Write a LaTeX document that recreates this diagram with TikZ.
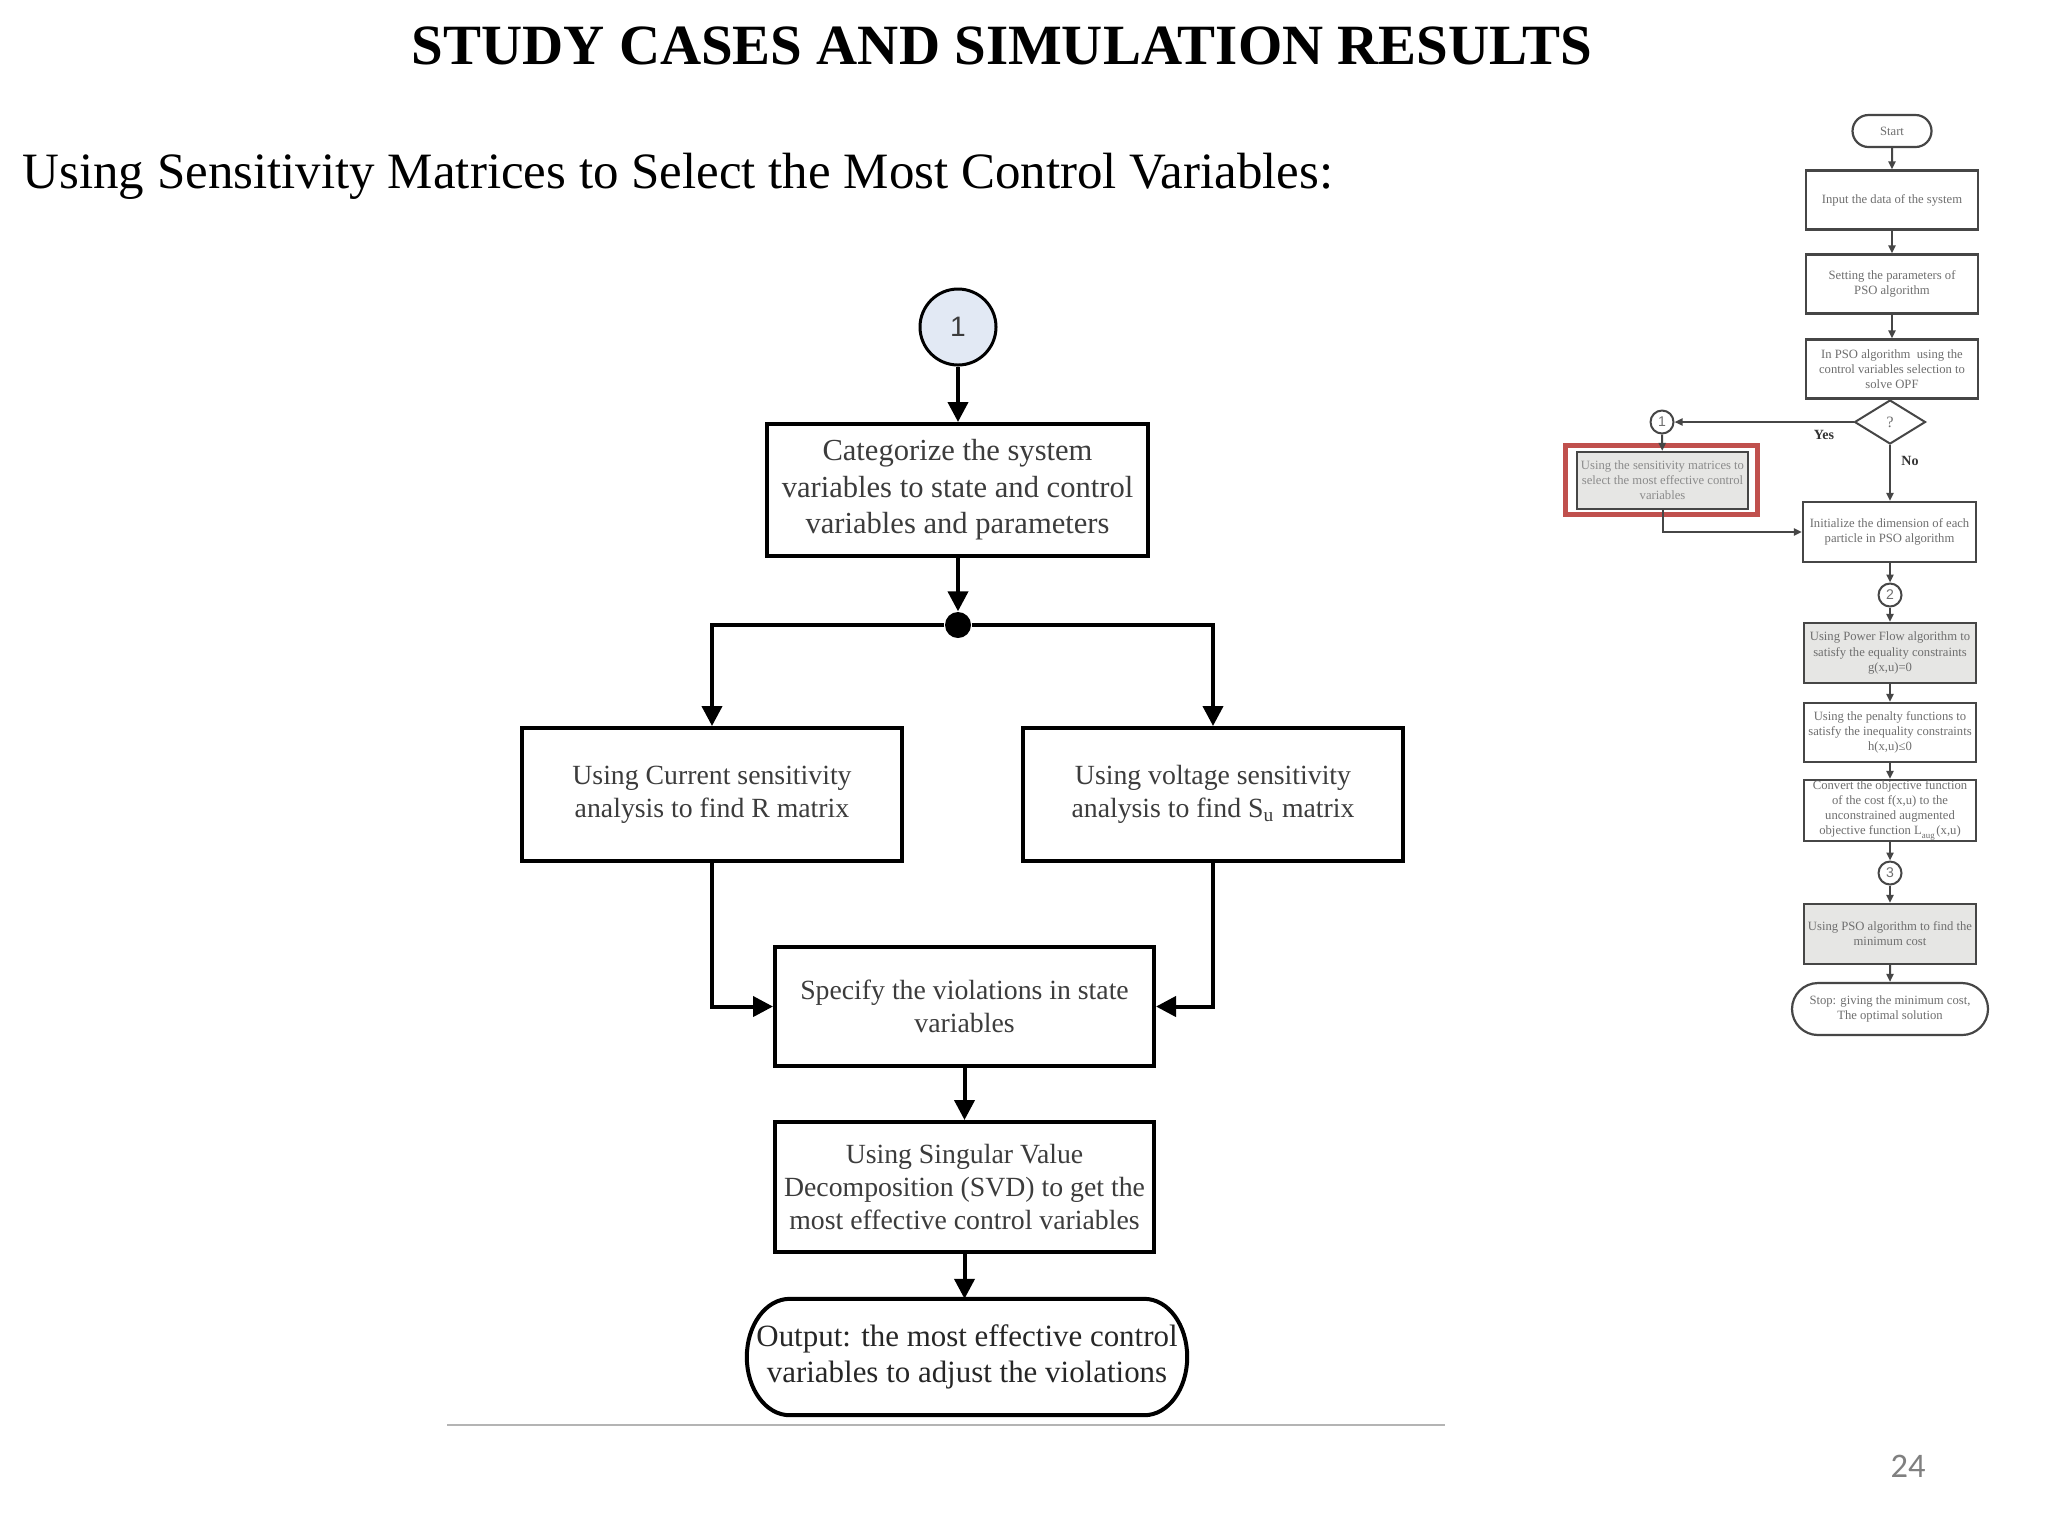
\documentclass[tikz,border=0pt]{standalone}
\usepackage{fontspec}
\setmainfont{Liberation Serif}
\newfontfamily\sansf{Liberation Sans}
\newfontfamily\calib{Carlito}
\usetikzlibrary{arrows.meta,shapes.geometric,shapes.misc,calc}
\definecolor{txtg}{RGB}{60,60,60}
\definecolor{circfill}{RGB}{226,233,244}
\definecolor{hlred}{RGB}{192,80,77}
\definecolor{boxgray}{RGB}{230,230,228}
\definecolor{smallline}{RGB}{70,70,70}
\definecolor{smalltxt}{RGB}{110,110,110}
\definecolor{rulegray}{RGB}{180,180,180}
\definecolor{pagegray}{RGB}{128,128,128}
\begin{document}
\begin{tikzpicture}[x=0.1mm,y=-0.1mm,
 mainbox/.style={draw=black, line width=0.4mm, inner sep=0pt, align=center, text=txtg, font=\fontsize{7.9}{9.4}\selectfont},
 mainarrow/.style={line width=0.4mm, -{Triangle[length=2mm,width=2mm]}},
 mainline/.style={line width=0.4mm},
 sbox/.style={draw=smallline, line width=0.22mm, inner sep=0pt, align=center, text=smalltxt, font=\fontsize{3.6}{4.3}\selectfont, minimum width=17.2mm, minimum height=5.9mm},
 sterm/.style={rounded rectangle, draw=smallline, line width=0.22mm, inner sep=0pt, align=center, text=smalltxt, font=\fontsize{3.6}{4.3}\selectfont},
 sarrow/.style={draw=smallline, line width=0.2mm, -{Triangle[length=0.8mm,width=0.7mm]}},
 sline/.style={draw=smallline, line width=0.2mm},
 scirc/.style={circle, draw=smallline, line width=0.2mm, minimum size=2.3mm, inner sep=0pt, font=\sansf\fontsize{4}{4}\selectfont, text=smalltxt},
 slabel/.style={inner sep=0pt, font=\bfseries\fontsize{4}{4}\selectfont, text=black!80},
]
\useasboundingbox (0,0) rectangle (2048,1536);
\fill[white] (0,0) rectangle (2048,1536);

% titles
\node[font=\bfseries\fontsize{16.2}{19}\selectfont, anchor=base, inner sep=0pt] (title) at (1002,64) {STUDY CASES AND SIMULATION RESULTS};
\node[font=\fontsize{14.5}{17}\selectfont, anchor=base west, inner sep=0pt] (sub) at (22,188) {Using Sensitivity Matrices to Select the Most Control Variables:};

% main flowchart
\node[circle, draw=black, line width=0.3mm, fill=circfill, minimum size=7.6mm, inner sep=0pt, font=\sansf\fontsize{8}{8}\selectfont, text=txtg] (c1) at (958,327) {1};
\node[mainbox, minimum width=38.1mm, minimum height=13.2mm, font=\fontsize{8.7}{10.4}\selectfont] (b1) at (957.5,490) {Categorize the system\\variables to state and control\\variables and parameters};
\node[circle, fill=black, minimum size=2.6mm, inner sep=0pt] (dot) at (958,625) {};
\node[mainbox, minimum width=38mm, minimum height=13.3mm] (b2) at (712,794.5) {Using Current sensitivity\\analysis to find R matrix};
\node[mainbox, minimum width=38mm, minimum height=13.3mm] (b3) at (1213,794.5) {Using voltage sensitivity\\analysis to find S\textsubscript{u} matrix};
\node[mainbox, minimum width=37.9mm, minimum height=11.9mm] (b4) at (964.5,1006.5) {Specify the violations in state\\variables};
\node[mainbox, minimum width=37.9mm, minimum height=13mm] (b5) at (964.5,1187) {Using Singular Value\\Decomposition (SVD) to get the\\most effective control variables};
\node[inner sep=0pt, minimum width=43.9mm, minimum height=11.5mm, align=center, font=\fontsize{8.8}{10.2}\selectfont, text=black!85] (out) at (967,1357) {Output: the most effective control\\variables to adjust the violations};
\draw[mainline] ([xshift=4.3mm]out.north west) -- ([xshift=-4.3mm]out.north east)
  .. controls +(2.4mm,0) and +(0,3.2mm) .. (out.east)
  .. controls +(0,-3.2mm) and +(2.4mm,0) .. ([xshift=-4.3mm]out.south east)
  -- ([xshift=4.3mm]out.south west)
  .. controls +(-2.4mm,0) and +(0,-3.2mm) .. (out.west)
  .. controls +(0,3.2mm) and +(-2.4mm,0) .. ([xshift=4.3mm]out.north west) -- cycle;

\draw[mainarrow] (c1.south) -- (c1.south |- b1.north);
\draw[mainarrow] (b1.south -| dot) -- (dot.north);
\draw[mainarrow] (dot) -| (b2.north);
\draw[mainarrow] (dot) -| (b3.north);
\draw[mainarrow] (b2.south) |- (b4.west);
\draw[mainarrow] (b3.south) |- (b4.east);
\draw[mainarrow] (b4) -- (b5);
\draw[mainarrow] (b5.south) -- (b5.south |- out.north);

\draw[rulegray, line width=0.27mm] (447,1425) -- (1445,1425);
\node[font=\calib\fontsize{9.8}{10}\selectfont, text=pagegray, inner sep=0pt] (pg) at (1908,1466) {24};

% small flowchart
\node[sterm, minimum width=7.9mm, minimum height=3.2mm] (st) at (1892,131) {Start};
\node[sbox] (sa) at (1892,200) {Input the data of the system};
\node[sbox] (sb) at (1892,284) {Setting the parameters of\\PSO algorithm};
\node[sbox] (sc) at (1892,369) {In PSO algorithm\ \ using the\\control variables selection to\\solve OPF};
\node[diamond, draw=smallline, line width=0.2mm, minimum width=7.1mm, minimum height=4.4mm, inner sep=0pt, shape aspect=1.6, font=\fontsize{4.5}{4.5}\selectfont, text=smalltxt] (dia) at (1890,422) {?};
\node[scirc] (s1) at (1662,422) {1};
\node[sbox, fill=boxgray, minimum width=17.1mm, minimum height=5.7mm, text=smalltxt!80] (sd) at (1662.5,480.5) {Using the sensitivity matrices to\\select the most effective control\\variables};
\draw[hlred, line width=0.5mm] (1565,445) rectangle (1757,514);
\node[sbox, minimum width=17.3mm, minimum height=6mm] (se) at (1889.5,532) {Initialize the dimension of each\\particle in PSO algorithm};
\node[scirc] (s2) at (1890,595) {2};
\node[sbox, fill=boxgray, minimum height=6mm] (sf) at (1890,653) {Using Power Flow algorithm to\\satisfy the equality constraints\\g(x,u)=0};
\node[sbox] (sg) at (1890,732.5) {Using the penalty functions to\\satisfy the inequality constraints\\h(x,u)≤0};
\node[sbox, minimum height=6.1mm] (sh) at (1890,810.5) {Convert the objective function\\of the cost f(x,u) to the\\unconstrained augmented\\objective function L\textsubscript{aug}(x,u)};
\node[scirc] (s3) at (1890,873) {3};
\node[sbox, fill=boxgray, minimum height=6mm] (si) at (1890,934) {Using PSO algorithm to find the\\minimum cost};
\node[sterm, minimum width=19.6mm, minimum height=5.2mm] (sstop) at (1890,1009) {Stop: giving the minimum cost,\\The optimal solution};

\draw[sarrow] (st) -- (sa);
\draw[sarrow] (sa) -- (sb);
\draw[sarrow] (sb) -- (sc);
\draw[sline] (sc.south -| dia) -- (dia.north);
\draw[sarrow] (dia.west) -- (s1.east);
\node[slabel] (yes) at (1824,435) {Yes};
\draw[sarrow] (s1) -- (sd);
\draw[sarrow] (sd.south) |- (se.west);
\draw[sarrow] (dia.south) -- (dia.south |- se.north);
\node[slabel] (no) at (1910,461) {No};
\draw[sarrow] (se.south -| s2) -- (s2);
\draw[sarrow] (s2) -- (sf);
\draw[sarrow] (sf) -- (sg);
\draw[sarrow] (sg) -- (sh);
\draw[sarrow] (sh) -- (s3);
\draw[sarrow] (s3) -- (si);
\draw[sarrow] (si) -- (sstop);
\end{tikzpicture}
\end{document}
